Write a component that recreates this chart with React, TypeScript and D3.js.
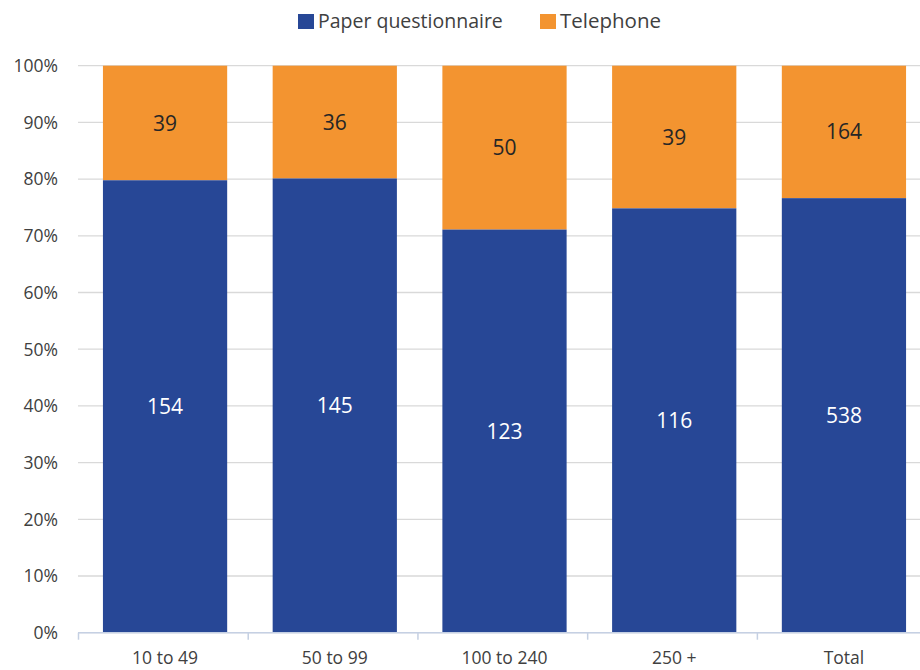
import React from "react";
import * as d3 from "d3";

const categories = ["10 to 49", "50 to 99", "100 to 240", "250 +", "Total"];
const paperValues = [154, 145, 123, 116, 538];
const telephoneValues = [39, 36, 50, 39, 164];
const yTicks = [0, 0.1, 0.2, 0.3, 0.4, 0.5, 0.6, 0.7, 0.8, 0.9, 1.0];
const seriesNames = ["Paper questionnaire", "Telephone"];

const BLUE = "#274796";
const ORANGE = "#F39430";
const FONT = "'Open Sans', Carlito, Calibri, sans-serif";

export default function App() {
  const W = 920;
  const H = 670;
  const x = d3
    .scaleBand<string>()
    .domain(categories)
    .range([78.5, 78.5 + 5 * 170.4])
    .paddingInner(0.268)
    .paddingOuter(0.144);
  const y = d3.scaleLinear().domain([0, 1]).range([632.7, 65.7]);

  const rows = categories.map((c, i) => {
    const total = paperValues[i] + telephoneValues[i];
    return { c, p: paperValues[i] / total, pv: paperValues[i], tv: telephoneValues[i] };
  });
  const boundaries = d3.range(categories.length + 1).map((i) => 78.5 + i * x.step());

  return (
    <svg
      width={W}
      height={H}
      style={{ position: "absolute", left: 0, top: 0, background: "#fff" }}
      fontFamily={FONT}
    >
      {/* gridlines */}
      {yTicks.map((t) => (
        <line
          key={"g" + t}
          x1={78}
          x2={W}
          y1={y(t)}
          y2={y(t)}
          stroke="#d9d9d9"
          strokeWidth={1.3}
        />
      ))}
      {/* y tick labels */}
      {yTicks.map((t) => (
        <text
          key={"yl" + t}
          x={58}
          y={y(t)}
          dy="0.36em"
          textAnchor="end"
          fontSize={17.5}
          fill="#404040"
        >
          {d3.format(".0%")(t)}
        </text>
      ))}
      {/* bars */}
      {rows.map((r) => (
        <g key={r.c}>
          <rect
            x={x(r.c)}
            width={x.bandwidth()}
            y={y(1)}
            height={y(r.p) - y(1)}
            fill={ORANGE}
          />
          <rect
            x={x(r.c)}
            width={x.bandwidth()}
            y={y(r.p)}
            height={y(0) - y(r.p)}
            fill={BLUE}
          />
          <text
            x={(x(r.c) as number) + x.bandwidth() / 2}
            y={(y(1) + y(r.p)) / 2}
            dy="0.36em"
            textAnchor="middle"
            fontSize={21}
            fill="#262626"
          >
            {r.tv}
          </text>
          <text
            x={(x(r.c) as number) + x.bandwidth() / 2}
            y={(y(0) + y(r.p)) / 2}
            dy="0.36em"
            textAnchor="middle"
            fontSize={21}
            fill="#ffffff"
          >
            {r.pv}
          </text>
        </g>
      ))}
      {/* x axis */}
      <line x1={78} x2={W} y1={y(0)} y2={y(0)} stroke="#c5d0e3" strokeWidth={1.5} />
      {boundaries.map((b, i) => (
        <line key={"t" + i} x1={b} x2={b} y1={y(0)} y2={y(0) + 7} stroke="#c5d0e3" strokeWidth={1.5} />
      ))}
      {categories.map((c) => (
        <text
          key={"xl" + c}
          x={(x(c) as number) + x.bandwidth() / 2}
          y={664}
          textAnchor="middle"
          fontSize={17.5}
          fill="#404040"
        >
          {c}
        </text>
      ))}
      {/* legend */}
      <g>
        <rect x={298} y={14} width={16} height={15} fill={BLUE} />
        <text x={318} y={28} fontSize={19.5} fill="#404040">
          {seriesNames[0]}
        </text>
        <rect x={540} y={14} width={16} height={15} fill={ORANGE} />
        <text x={560} y={28} fontSize={20.5} fill="#404040">
          {seriesNames[1]}
        </text>
      </g>
    </svg>
  );
}
